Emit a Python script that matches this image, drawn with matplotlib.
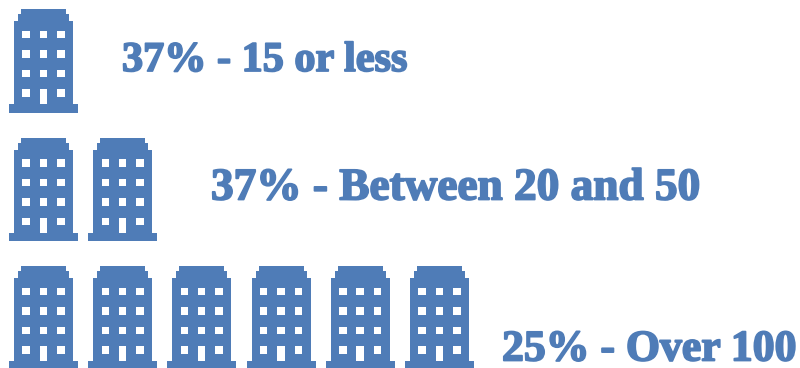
import matplotlib
matplotlib.use("Agg")
import matplotlib.pyplot as plt
from matplotlib.patches import Polygon, Rectangle
import matplotlib.patheffects as pe

percentages = [37, 37, 25]
categories = ["15 or less", "Between 20 and 50", "Over 100"]
building_counts = [1, 2, 6]

BLUE = "#4F7CB7"
ROW_STEP = 128.5
COL_STEP = 79.2
LABEL_X = [122, 211, 502]
BASELINE = [71, 199.5, 360.5]
LABEL_SIZE = [30.4, 32.6, 31.5]

# Building silhouette and cut-outs, in pixels relative to the icon's top-left
OUTLINE = [(12, 0), (57, 0), (57, 5), (60, 5), (60, 12), (64, 12), (64, 95),
           (69, 95), (69, 103.5), (0, 103.5), (0, 95), (5, 95), (5, 12),
           (9, 12), (9, 5), (12, 5)]
WINDOW_X = [13.3, 30.5, 48]
WINDOW_Y = [21.5, 41, 60.5, 80]
WINDOW_SIZE = (7.5, 7.5)
DOOR_HEIGHT = 15


def draw_building(ax, x, y):
    ax.add_patch(Polygon([(x + px, y + py) for px, py in OUTLINE],
                         closed=True, fc=BLUE, ec="none"))
    for wy in WINDOW_Y:
        for wx in WINDOW_X:
            is_door = wy == WINDOW_Y[-1] and wx == WINDOW_X[1]
            height = DOOR_HEIGHT if is_door else WINDOW_SIZE[1]
            ax.add_patch(Rectangle((x + wx, y + wy), WINDOW_SIZE[0], height,
                                   fc="white", ec="none"))


fig = plt.figure(figsize=(8, 3.68), dpi=100)
ax = fig.add_axes([0, 0, 1, 1])
ax.set_xlim(0, 800)
ax.set_ylim(368, 0)
ax.axis("off")

for row, (pct, cat, count) in enumerate(zip(percentages, categories, building_counts)):
    top = 9 + row * ROW_STEP
    for col in range(count):
        draw_building(ax, 9 + col * COL_STEP, top)
    ax.text(LABEL_X[row], BASELINE[row], f"{pct}% - {cat}", color=BLUE,
            family="Liberation Serif", weight="bold", fontsize=LABEL_SIZE[row],
            va="baseline", ha="left",
            path_effects=[pe.withStroke(linewidth=1.3, foreground=BLUE)])

fig.savefig("out.png", dpi=100)
